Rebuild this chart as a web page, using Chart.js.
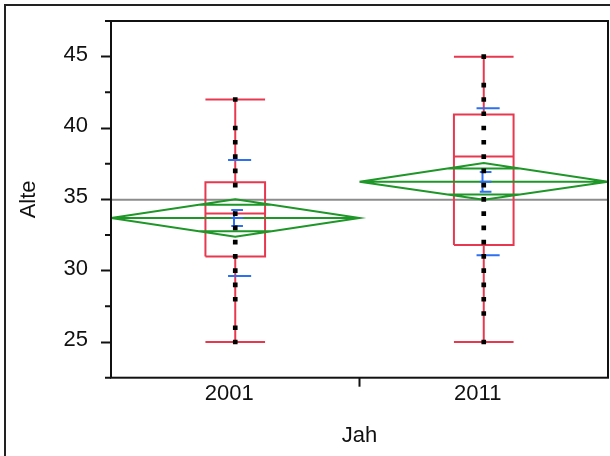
<!DOCTYPE html>
<html lang="de">
<head>
<meta charset="UTF-8">
<title>Alte nach Jah</title>
<script src="https://cdn.jsdelivr.net/npm/chart.js"></script>
<style>
  body { margin: 0; background: #fff; }
</style>
</head>
<body>
<canvas id="oneway" width="610" height="456"></canvas>
<script>
// groups and raw ages per group
const groups = ['2001', '2011'];
const ages2001 = [25, 26, 28, 29, 30, 31, 32, 33, 34, 36, 37, 38, 39, 40, 42];
const ages2011 = [25, 27, 28, 29, 30, 31, 32, 33, 34, 35, 36, 37, 38, 39, 40, 41, 42, 43, 45];

// summary stats per group
const means = [33.69, 36.23];
const ciLow = [32.38, 34.97];
const ciHigh = [35.0, 37.55];
const stdErr = [0.56, 0.69];
const stdDev = [4.07, 5.15];
const q1 = [31, 31.8];
const medians = [34, 38];
const q3 = [36.2, 40.95];
const whiskerLow = [25, 25];
const whiskerHigh = [42, 45];
const grandMean = 34.97;

// axis
const yMin = 22.5, yMax = 47.5, yStep = 2.5;
const yLabels = [25, 30, 35, 40, 45];

const RED = 'rgb(232,56,79)';
const GREEN = 'rgb(30,150,40)';
const BLUE = 'rgb(45,112,240)';
const GREY = 'rgb(140,140,140)';
const INK = '#111';

// plot box edges in canvas pixels
const AREA = { left: 111, top: 21, right: 608, bottom: 377.7 };

// turn a list of polylines into one dataset, gaps between pieces
function segs(list) {
    const out = [];
    list.forEach((s, i) => {
        if (i) out.push({ x: s[0][0], y: null });
        s.forEach(p => out.push({ x: p[0], y: p[1] }));
    });
    return out;
}

const diamonds = [], boxes = [], sdLines = [], seBars = [];
groups.forEach((g, i) => {
    const cx = i + 0.5, m = means[i];
    const hi = ciHigh[i], lo = ciLow[i];
    const k = 0.5 * (1 - Math.SQRT1_2);
    const oh = m + (hi - m) * Math.SQRT1_2, ol = m - (m - lo) * Math.SQRT1_2;
    diamonds.push(
        [[cx - 0.5, m], [cx, hi], [cx + 0.5, m], [cx, lo], [cx - 0.5, m]],
        [[cx - 0.5, m], [cx + 0.5, m]],
        [[cx - k, oh], [cx + k, oh]],
        [[cx - k, ol], [cx + k, ol]]
    );

    const bw = 0.12;
    boxes.push(
        [[cx - bw, q1[i]], [cx + bw, q1[i]], [cx + bw, q3[i]], [cx - bw, q3[i]], [cx - bw, q1[i]]],
        [[cx - bw, medians[i]], [cx + bw, medians[i]]],
        [[cx, q3[i]], [cx, whiskerHigh[i]]],
        [[cx, q1[i]], [cx, whiskerLow[i]]],
        [[cx - bw, whiskerHigh[i]], [cx + bw, whiskerHigh[i]]],
        [[cx - bw, whiskerLow[i]], [cx + bw, whiskerLow[i]]]
    );

    sdLines.push(
        [[cx - 0.029, m + stdDev[i]], [cx + 0.064, m + stdDev[i]]],
        [[cx - 0.029, m - stdDev[i]], [cx + 0.064, m - stdDev[i]]]
    );

    const ex = cx - 0.005;
    seBars.push(
        [[ex, m - stdErr[i]], [ex, m + stdErr[i]]],
        [[cx - 0.016, m + stdErr[i]], [cx + 0.031, m + stdErr[i]]],
        [[cx - 0.016, m], [cx + 0.031, m]],
        [[cx - 0.016, m - stdErr[i]], [cx + 0.031, m - stdErr[i]]]
    );
});

const dots = []
    .concat(ages2001.map(v => ({ x: 0.5, y: v })))
    .concat(ages2011.map(v => ({ x: 1.5, y: v })));

function lineSet(data, color, order) {
    return {
        type: 'scatter', data, showLine: true, spanGaps: false,
        borderColor: color, borderWidth: 2, pointRadius: 0,
        borderJoinStyle: 'miter', tension: 0, fill: false, order
    };
}

// no extra room for edge labels, the plot box is set by layout padding
function noPad(s) {
    s.paddingTop = 0;
    s.paddingBottom = 0;
    s.paddingLeft = 0;
    s.paddingRight = 0;
}

// plot frame, outer frame and minor y ticks
const framePlugin = {
    id: 'frame',
    beforeDraw(chart) {
        const ctx = chart.ctx;
        ctx.save();
        ctx.fillStyle = '#fff';
        ctx.fillRect(0, 0, chart.width, chart.height);
        ctx.strokeStyle = '#222';
        ctx.lineWidth = 2;
        ctx.strokeRect(5, 5, chart.width + 20, chart.height + 20);
        ctx.restore();
    },
    afterDraw(chart) {
        const { ctx, chartArea: a, scales: { y } } = chart;
        ctx.save();
        ctx.strokeStyle = INK;
        ctx.lineWidth = 2;
        ctx.strokeRect(a.left, a.top, a.right - a.left, a.bottom - a.top);
        ctx.beginPath();
        y.ticks.forEach(t => {
            if (yLabels.includes(t.value)) return;
            const py = y.getPixelForValue(t.value);
            ctx.moveTo(a.left - 6, py);
            ctx.lineTo(a.left, py);
        });
        ctx.stroke();
        ctx.restore();
    }
};

const font = { family: "'Liberation Sans', Arial, sans-serif", size: 22 };

new Chart(document.getElementById('oneway'), {
    type: 'scatter',
    data: {
        datasets: [
            {
                type: 'scatter', data: dots, showLine: false,
                pointStyle: 'rect', pointRadius: 3.3, pointBorderWidth: 0,
                backgroundColor: '#000', borderColor: '#000', order: 0
            },
            lineSet(segs(seBars), BLUE, 1),
            lineSet(segs(sdLines), BLUE, 2),
            lineSet(segs(diamonds), GREEN, 3),
            lineSet(segs(boxes), RED, 4),
            lineSet(segs([[[0, grandMean], [2, grandMean]]]), GREY, 5)
        ]
    },
    options: {
        responsive: false,
        animation: false,
        layout: { padding: { left: 5, right: 610 - AREA.right, top: AREA.top, bottom: 0 } },
        plugins: { legend: { display: false }, tooltip: { enabled: false } },
        scales: {
            x: {
                type: 'linear', min: 0, max: 2,
                afterBuildTicks: s => { s.ticks = [0.5, 1, 1.5].map(v => ({ value: v })); },
                afterFit: s => { s.height = 456 - AREA.bottom; noPad(s); },
                border: { display: false },
                grid: {
                    drawOnChartArea: false, tickLength: 9, tickWidth: 2,
                    tickColor: c => c.tick && c.tick.value === 1 ? INK : 'rgba(0,0,0,0)'
                },
                ticks: {
                    color: INK, font, padding: -6, labelOffset: -6, maxRotation: 0,
                    callback: v => {
                        const i = v - 0.5;
                        return Number.isInteger(i) ? groups[i] : '';
                    }
                },
                title: { display: true, text: 'Jah', color: INK, font, padding: { top: 0, bottom: 7 } }
            },
            y: {
                type: 'linear', min: yMin, max: yMax,
                ticks: {
                    stepSize: yStep, color: INK, font, padding: 13, labelOffset: -2,
                    callback: v => yLabels.includes(v) ? String(v) : ''
                },
                afterFit: s => { s.width = AREA.left - 5; noPad(s); },
                border: { display: false },
                grid: {
                    drawOnChartArea: false, tickLength: 10, tickWidth: 2,
                    tickColor: c => c.tick && yLabels.includes(c.tick.value) ? INK : 'rgba(0,0,0,0)'
                },
                title: { display: true, text: 'Alte', color: INK, font, padding: { top: 11, bottom: 0 } }
            }
        }
    },
    plugins: [framePlugin, {
        // pin the right edge of the plot box
        id: 'pinArea',
        afterLayout(chart) {
            const a = chart.chartArea;
            if (Math.abs(a.right - AREA.right) > 0.5) {
                a.right = AREA.right;
                a.width = a.right - a.left;
                chart.scales.x.right = AREA.right;
                chart.scales.x.width = AREA.right - chart.scales.x.left;
                chart.scales.x.configure();
            }
        }
    }]
});
</script>
</body>
</html>
